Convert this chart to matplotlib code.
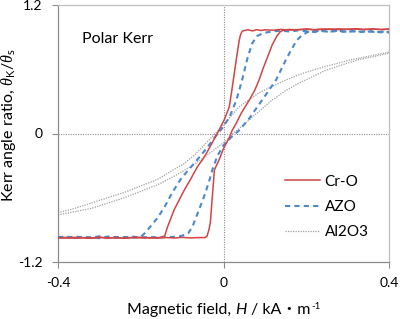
import matplotlib
matplotlib.use('Agg')
import matplotlib.pyplot as plt

plt.rcParams['font.family'] = ['Lato', 'Noto Sans CJK JP', 'DejaVu Sans']
plt.rcParams['axes.unicode_minus'] = False
plt.rcParams['mathtext.fontset'] = 'custom'
plt.rcParams['mathtext.rm'] = 'Lato'
plt.rcParams['mathtext.it'] = 'Liberation Serif:italic'

# ---- data (H in kA/m, Kerr ratio) ----
cro_h1 = [-0.40, -0.38, -0.36, -0.34, -0.32, -0.30, -0.28, -0.26, -0.24, -0.22, -0.20, -0.18,
          -0.16, -0.15, -0.142, -0.136, -0.128, -0.119, -0.107, -0.095, -0.08, -0.063, -0.05,
          -0.039, -0.025, -0.011, 0.002, 0.014, 0.020, 0.026, 0.032, 0.038, 0.041, 0.045, 0.05,
          0.06, 0.07, 0.08, 0.09, 0.10, 0.12, 0.14, 0.16, 0.18, 0.20, 0.22, 0.24, 0.26, 0.28,
          0.30, 0.32, 0.34, 0.36, 0.38, 0.40]
cro_m1 = [-0.975, -0.97, -0.978, -0.972, -0.976, -0.968, -0.975, -0.971, -0.978, -0.973, -0.969,
          -0.976, -0.972, -0.97, -0.955, -0.88, -0.80, -0.71, -0.62, -0.53, -0.43, -0.31, -0.24,
          -0.17, -0.07, 0.03, 0.13, 0.25, 0.40, 0.56, 0.72, 0.87, 0.92, 0.955, 0.962, 0.968,
          0.958, 0.97, 0.962, 0.968, 0.965, 0.972, 0.966, 0.97, 0.975, 0.968, 0.972, 0.976,
          0.97, 0.974, 0.978, 0.972, 0.976, 0.97, 0.975]

cro_h2 = [-0.40, -0.38, -0.36, -0.34, -0.32, -0.30, -0.28, -0.26, -0.24, -0.22, -0.20, -0.18,
          -0.16, -0.14, -0.12, -0.10, -0.08, -0.06, -0.045, -0.040, -0.036, -0.032, -0.027,
          -0.022, -0.010, 0.0, 0.014, 0.021, 0.03, 0.043, 0.062, 0.075, 0.086, 0.095, 0.105,
          0.118, 0.129, 0.137, 0.145, 0.16, 0.18, 0.20, 0.22, 0.24, 0.26, 0.28, 0.30, 0.32,
          0.34, 0.36, 0.38, 0.40]
cro_m2 = [-0.972, -0.977, -0.97, -0.975, -0.979, -0.971, -0.976, -0.973, -0.978, -0.97, -0.975,
          -0.972, -0.977, -0.971, -0.976, -0.97, -0.975, -0.972, -0.972, -0.96, -0.91, -0.84,
          -0.59, -0.34, -0.24, -0.14, -0.04, 0.03, 0.09, 0.19, 0.31, 0.40, 0.50, 0.60, 0.70,
          0.83, 0.91, 0.95, 0.965, 0.972, 0.968, 0.975, 0.97, 0.976, 0.971, 0.977, 0.972,
          0.975, 0.97, 0.976, 0.972, 0.974]

azo_h1 = [-0.40, -0.38, -0.36, -0.34, -0.32, -0.30, -0.28, -0.26, -0.24, -0.22, -0.21, -0.20,
          -0.19, -0.179, -0.16, -0.143, -0.125, -0.104, -0.088, -0.071, -0.055, -0.039, -0.020,
          -0.003, 0.014, 0.031, 0.045, 0.057, 0.069, 0.081, 0.098, 0.122, 0.14, 0.16, 0.18,
          0.20, 0.22, 0.24, 0.26, 0.28, 0.30, 0.32, 0.34, 0.36, 0.38, 0.40]
azo_m1 = [-0.965, -0.975, -0.96, -0.972, -0.968, -0.978, -0.962, -0.974, -0.966, -0.972, -0.97,
          -0.965, -0.93, -0.88, -0.79, -0.69, -0.56, -0.43, -0.355, -0.28, -0.205, -0.13, -0.03,
          0.05, 0.15, 0.31, 0.50, 0.69, 0.84, 0.91, 0.94, 0.955, 0.96, 0.952, 0.962, 0.955,
          0.948, 0.96, 0.952, 0.958, 0.95, 0.956, 0.948, 0.955, 0.945, 0.95]

azo_h2 = [-0.40, -0.38, -0.36, -0.34, -0.32, -0.30, -0.28, -0.26, -0.24, -0.22, -0.20, -0.18,
          -0.16, -0.14, -0.12, -0.10, -0.085, -0.075, -0.06, -0.047, -0.035, -0.027, -0.015,
          0.0, 0.02, 0.038, 0.062, 0.093, 0.127, 0.151, 0.165, 0.177, 0.19, 0.205, 0.23, 0.25,
          0.27, 0.29, 0.31, 0.33, 0.35, 0.37, 0.39, 0.40]
azo_m2 = [-0.97, -0.962, -0.975, -0.968, -0.972, -0.96, -0.974, -0.966, -0.97, -0.962, -0.972,
          -0.965, -0.97, -0.968, -0.965, -0.955, -0.93, -0.87, -0.72, -0.59, -0.45, -0.34, -0.21,
          -0.11, -0.03, 0.03, 0.14, 0.31, 0.50, 0.69, 0.79, 0.87, 0.92, 0.95, 0.958, 0.952,
          0.96, 0.95, 0.957, 0.948, 0.955, 0.945, 0.952, 0.94]

al_h1 = [-0.40, -0.36, -0.32, -0.28, -0.24, -0.20, -0.16, -0.13, -0.095, -0.07, -0.047, -0.03,
         -0.015, 0.0, 0.02, 0.038, 0.06, 0.086, 0.12, 0.151, 0.19, 0.231, 0.27, 0.31, 0.355, 0.40]
al_m1 = [-0.74, -0.70, -0.65, -0.60, -0.55, -0.49, -0.43, -0.36, -0.28, -0.20, -0.11, -0.04,
         0.02, 0.08, 0.17, 0.25, 0.31, 0.38, 0.445, 0.50, 0.56, 0.61, 0.65, 0.69, 0.725, 0.76]

al_h2 = [-0.40, -0.36, -0.32, -0.28, -0.24, -0.20, -0.16, -0.12, -0.08, -0.055, -0.032, -0.015,
         0.002, 0.02, 0.045, 0.069, 0.093, 0.117, 0.15, 0.182, 0.215, 0.247, 0.29, 0.327, 0.365, 0.40]
al_m2 = [-0.76, -0.73, -0.70, -0.65, -0.60, -0.54, -0.48, -0.40, -0.31, -0.245, -0.18, -0.13,
         -0.08, -0.01, 0.07, 0.15, 0.23, 0.31, 0.40, 0.47, 0.53, 0.59, 0.645, 0.69, 0.72, 0.75]

series_names = ['Cr-O', 'AZO', 'Al2O3']
x_ticks = [-0.4, 0, 0.4]
y_ticks = [-1.2, 0, 1.2]

red = '#d04545'
blue = '#4a89cc'
grey = '#a0a0a0'

W, H = 400, 319
fig = plt.figure(figsize=(W / 100, H / 100), dpi=100)
ax = fig.add_axes([58 / W, 1 - 262 / H, (389 - 58) / W, (262 - 5) / H])

# zero lines
ax.axvline(0, color='#8a8a8a', lw=0.8, ls=(0, (1, 1.2)), zorder=1)
ax.axhline(0, color='#8a8a8a', lw=0.8, ls=(0, (1, 1.2)), zorder=1)

ax.plot(al_h1, al_m1, color=grey, lw=0.9, ls=(0, (1, 1)), label=series_names[2], zorder=2)
ax.plot(al_h2, al_m2, color=grey, lw=0.9, ls=(0, (1, 1)), zorder=2)
ax.plot(azo_h1, azo_m1, color=blue, lw=1.5, ls=(0, (2.5, 2)), label=series_names[1], zorder=3)
ax.plot(azo_h2, azo_m2, color=blue, lw=1.5, ls=(0, (2.5, 2)), zorder=3)
ax.plot(cro_h1, cro_m1, color=red, lw=1.1, label=series_names[0], zorder=4)
ax.plot(cro_h2, cro_m2, color=red, lw=1.1, zorder=4)

ax.set_xlim(-0.4, 0.4)
ax.set_ylim(-1.2, 1.2)
ax.set_xticks(x_ticks)
ax.set_xticklabels(['-0.4', '0', '0.4'])
ax.set_yticks(y_ticks)
ax.set_yticklabels(['-1.2', '0', '1.2'])
ax.tick_params(labelsize=10, length=4, width=0.8, color='#8c8c8c', labelcolor='black', pad=7)

for s in ['left', 'bottom']:
    ax.spines[s].set_color('#8c8c8c')
    ax.spines[s].set_linewidth(0.9)
for s in ['top', 'right']:
    ax.spines[s].set_color('#bfbfbf')
    ax.spines[s].set_linewidth(0.9)

h, l = ax.get_legend_handles_labels()
order = [2, 1, 0]
ax.legend([h[i] for i in order], [l[i] for i in order], loc='center left',
          bbox_to_anchor=((285 - 58) / 331, (262 - 207) / 257), frameon=False, fontsize=11,
          handlelength=2.3, handletextpad=0.3, labelspacing=0.75, borderpad=0, borderaxespad=0)

fig.text(82 / W, 1 - 43 / H, 'Polar Kerr', fontsize=11.5, va='baseline', ha='left')

fig.text(9 / W, 1 - 125 / H, r'Kerr angle ratio, $\mathit{\theta}_{\mathrm{K}}/\mathit{\theta}_{\mathrm{s}}$',
         rotation=90, fontsize=11.5, ha='center', va='center')

# x label built from pieces so the katakana dot and italic H both work
r = fig.canvas.get_renderer()
pieces = [('Magnetic field,', {}, 4, 0),
          ('H', {'style': 'italic'}, 4, 0),
          ('/ kA・m', {}, 1, 0),
          ('-1', {'fontsize': 7}, 0, 5)]
base_y = 314
txts = []
total = 0
for s, kw, gap, dy in pieces:
    kw2 = {'fontsize': 11.5}
    kw2.update(kw)
    t = fig.text(0, 1 - (base_y - dy) / H, s, va='baseline', ha='left', **kw2)
    w = t.get_window_extent(r).width
    txts.append((t, w, gap))
    total += w + gap
x = 224 - total / 2
for t, w, gap in txts:
    t.set_x(x / W)
    x += w + gap

fig.savefig('out.png', dpi=100)
